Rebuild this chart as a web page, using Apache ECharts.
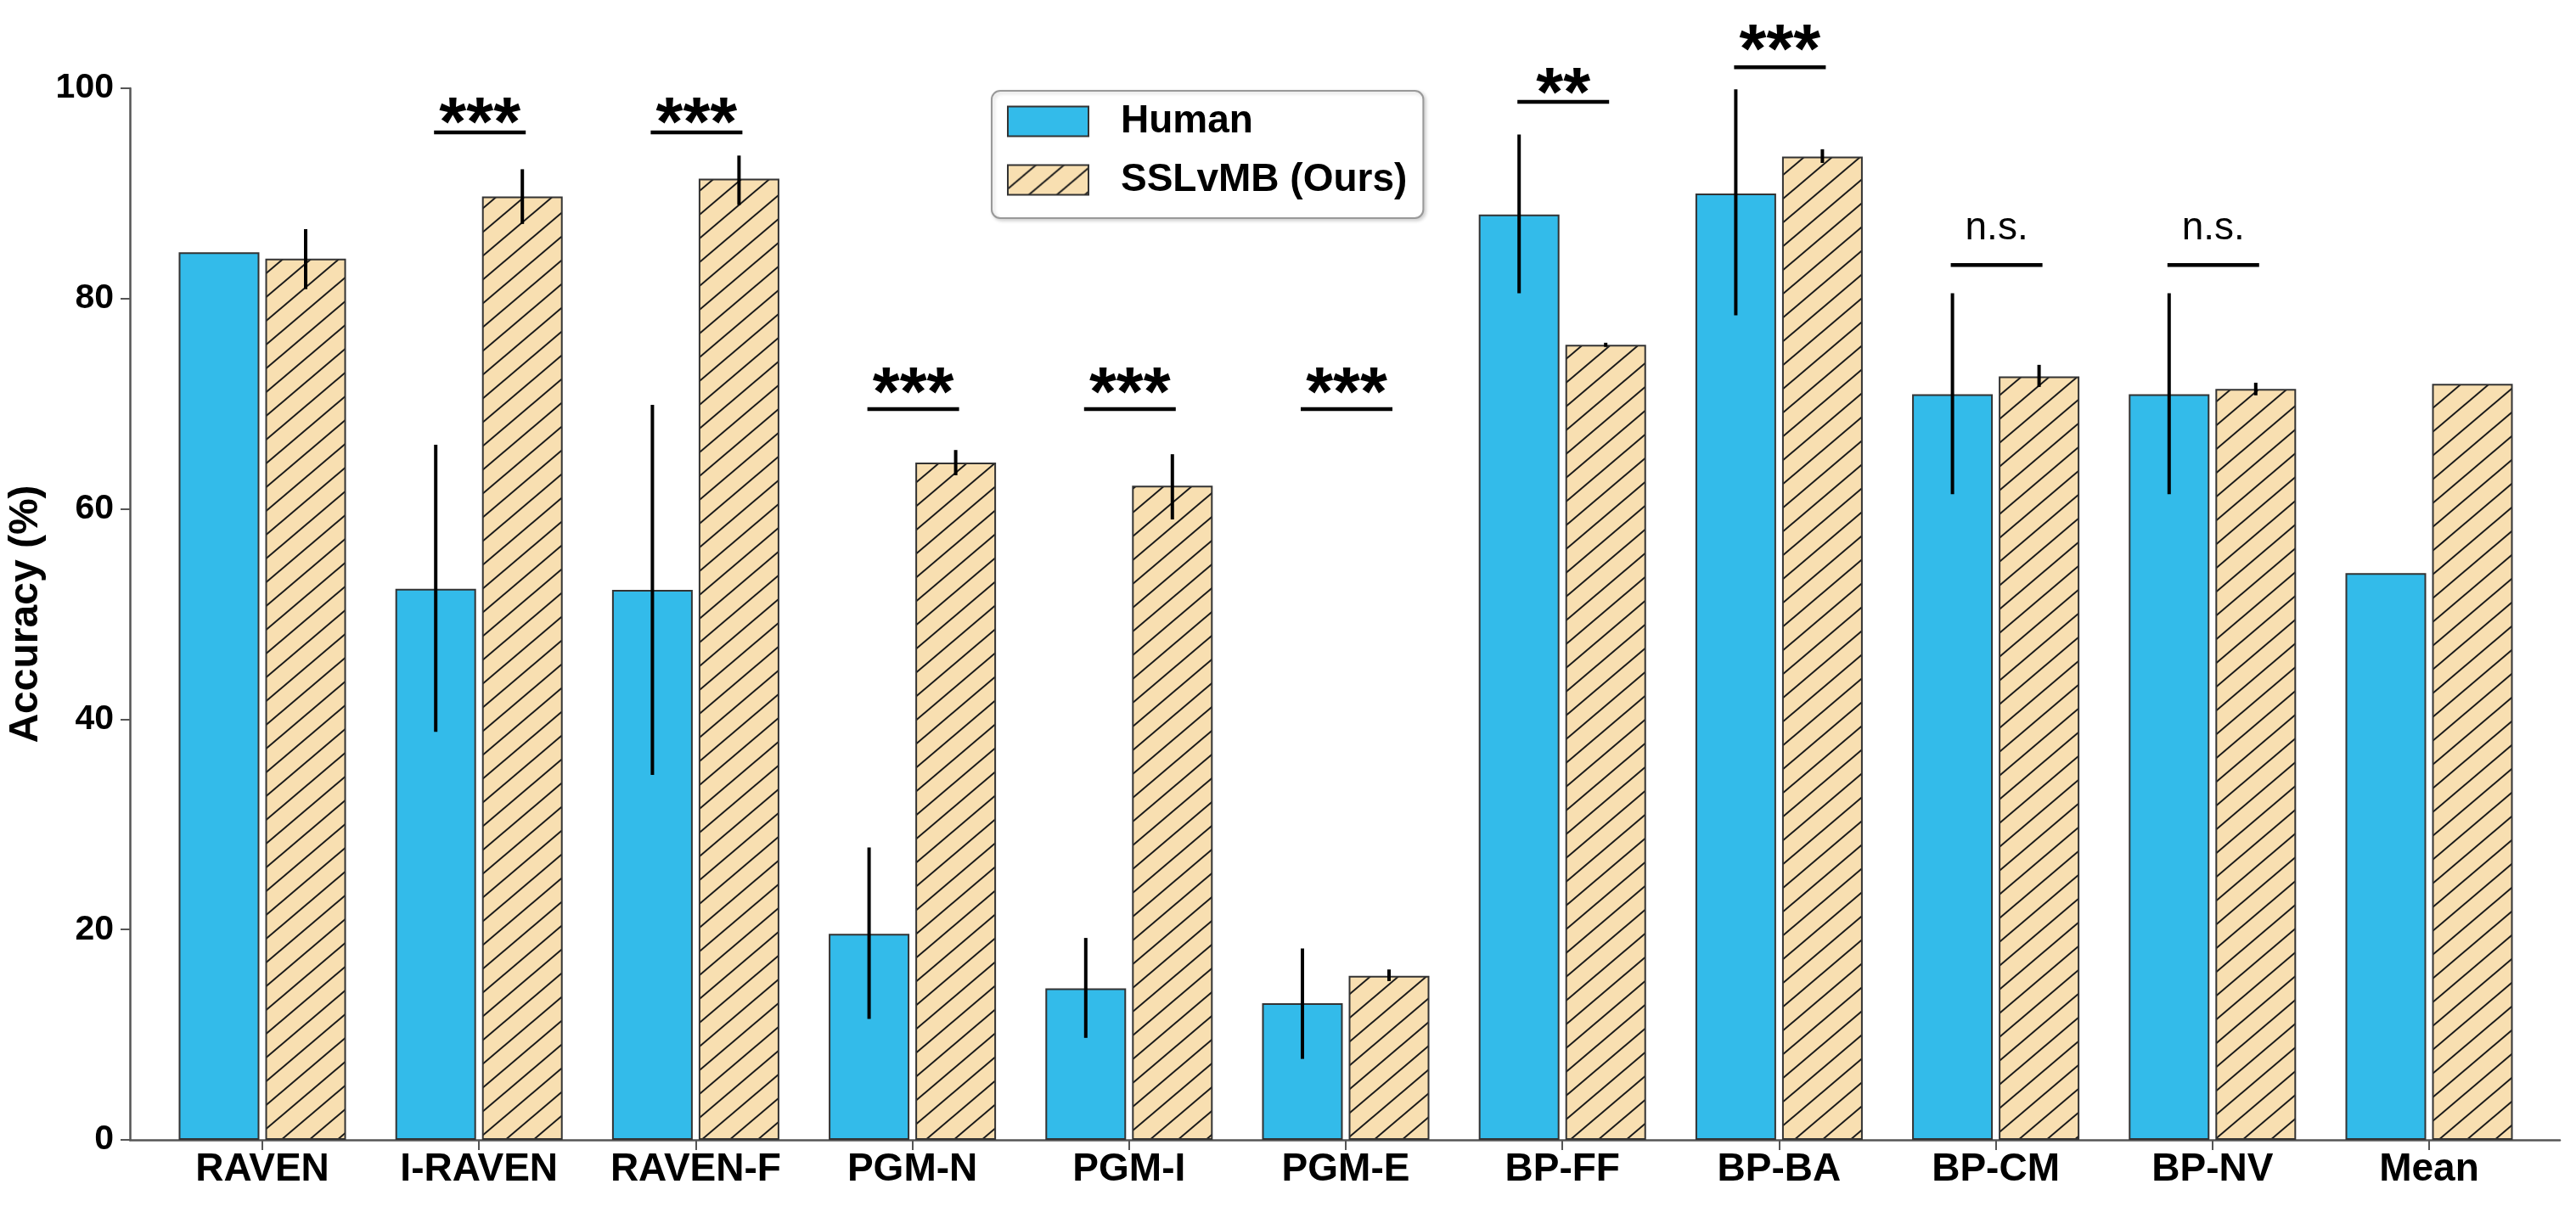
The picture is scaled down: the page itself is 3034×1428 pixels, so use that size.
<!DOCTYPE html>
<html>
<head>
<meta charset="utf-8">
<style>
  html, body { margin: 0; padding: 0; background: #fff; }
  #chart { width: 3034px; height: 1428px; }
</style>
<script src="https://cdn.jsdelivr.net/npm/echarts@6/dist/echarts.min.js"></script>
</head>
<body>
<div id="chart"></div>
<script>
// data
var categories = ['RAVEN', 'I-RAVEN', 'RAVEN-F', 'PGM-N', 'PGM-I', 'PGM-E', 'BP-FF', 'BP-BA', 'BP-CM', 'BP-NV', 'Mean'];

var humanAcc     = [84.4, 52.4, 52.3, 19.6, 14.4, 13.0, 88.0, 90.0, 70.9, 70.9, 53.9];
var humanErrLow  = [null, 38.8, 34.7, 11.5,  9.7,  7.7, 80.5, 78.4, 61.4, 61.4, null];
var humanErrHigh = [null, 66.1, 69.9, 27.8, 19.2, 18.2, 95.6, 99.9, 80.5, 80.5, null];

var oursAcc      = [83.8, 89.7, 91.4, 64.4, 62.2, 15.6, 75.6, 93.5, 72.6, 71.4, 71.9];
var oursErrLow   = [80.9, 87.1, 88.9, 63.2, 59.0, 15.1, 75.4, 92.9, 71.6, 70.8, null];
var oursErrHigh  = [86.6, 92.3, 93.6, 65.6, 65.2, 16.2, 75.8, 94.2, 73.7, 72.0, null];

// significance marks: label, bar height and text height (in % units)
var sigLabels = ['', '***', '***', '***', '***', '***', '**', '***', 'n.s.', 'n.s.', ''];
var sigLineY  = [null, 95.8, 95.8, 69.5, 69.5, 69.5, 98.7, 102.0, 83.2, 83.2, null];
var sigTextY  = [null, 97.9, 97.9, 72.2, 72.2, 72.2, 100.7, 104.8, 86.3, 86.3, null];

var yMin = 0, yMax = 100, yStep = 20;

var FONT = '"Liberation Sans", Arial, Helvetica, sans-serif';
var BLUE = '#33BBEA';
var BAR_W = 95;
var HALF = 51;   // offset of each bar centre from the category centre

function makeHatch() {
  var w = 33, h = 28;
  var c = document.createElement('canvas');
  c.width = w; c.height = h;
  var ctx = c.getContext('2d');
  ctx.fillStyle = '#F8DFB1';
  ctx.fillRect(0, 0, w, h);
  ctx.strokeStyle = '#1a1a1a';
  ctx.lineWidth = 2;
  [-h, 0, h].forEach(function (off) {
    ctx.beginPath();
    ctx.moveTo(-w, 2 * h + off);
    ctx.lineTo(2 * w, -h + off);
    ctx.stroke();
  });
  return c;
}

function errorBars(low, high, shift) {
  var data = [];
  for (var i = 0; i < categories.length; i++) {
    if (low[i] != null) data.push([i, low[i], high[i]]);
  }
  return {
    type: 'custom',
    xAxisIndex: 0,
    yAxisIndex: 0,
    z: 5,
    silent: true,
    encode: { x: 0, y: [1, 2] },
    data: data,
    renderItem: function (params, api) {
      var a = api.coord([api.value(0), api.value(1)]);
      var b = api.coord([api.value(0), api.value(2)]);
      return {
        type: 'line',
        shape: { x1: a[0] + shift, y1: a[1], x2: b[0] + shift, y2: b[1] },
        style: { stroke: '#000', lineWidth: 4 }
      };
    }
  };
}

var sigData = [];
for (var i = 0; i < categories.length; i++) {
  if (sigLineY[i] != null) sigData.push([i, sigLineY[i], sigTextY[i]]);
}

var chart = echarts.init(document.getElementById('chart'));
var hatch = makeHatch();

chart.setOption({
  animation: false,
  backgroundColor: '#fff',
  grid: [
    { left: 181.4, right: 45.4, top: 104, bottom: 85, outerBoundsMode: 'none' },
    { left: 153, right: 19, top: 104, bottom: 85, outerBoundsMode: 'none' }
  ],
  legend: {
    data: ['Human', 'SSLvMB (Ours)'],
    orient: 'vertical',
    left: 1168,
    top: 107,
    icon: 'rect',
    itemWidth: 95,
    itemHeight: 35,
    itemGap: 23,
    padding: [13, 19, 22, 18],
    borderColor: '#999',
    borderWidth: 2,
    borderRadius: 10,
    backgroundColor: '#fff',
    shadowColor: 'rgba(0,0,0,0.18)',
    shadowBlur: 4,
    shadowOffsetX: 2,
    shadowOffsetY: 2,
    textStyle: {
      fontFamily: FONT, fontSize: 46, fontWeight: 'bold', color: '#000',
      lineHeight: 46, padding: [0, 0, 0, 33]
    }
  },
  xAxis: [
    {
      type: 'category',
      gridIndex: 0,
      data: categories,
      axisLine: { show: false },
      axisTick: { show: true, alignWithLabel: true, length: 12, lineStyle: { color: '#555', width: 2 } },
      axisLabel: { interval: 0, fontFamily: FONT, fontSize: 46, fontWeight: 'bold', color: '#000', margin: 12 },
      splitLine: { show: false }
    },
    {
      type: 'value',
      gridIndex: 1,
      min: 0,
      max: 1,
      axisLine: { show: true, lineStyle: { color: '#555', width: 2.5 } },
      axisTick: { show: false },
      axisLabel: { show: false },
      splitLine: { show: false }
    }
  ],
  yAxis: [
    { type: 'value', gridIndex: 0, min: yMin, max: yMax, show: false },
    {
      type: 'value',
      gridIndex: 1,
      min: yMin,
      max: yMax,
      interval: yStep,
      name: 'Accuracy (%)',
      nameLocation: 'middle',
      nameGap: 81,
      nameTextStyle: { fontFamily: FONT, fontSize: 48, fontWeight: 'bold', color: '#000' },
      axisLine: { show: true, lineStyle: { color: '#555', width: 2.5 } },
      axisTick: { show: true, length: 11, lineStyle: { color: '#555', width: 2 } },
      axisLabel: { fontFamily: FONT, fontSize: 41, fontWeight: 'bold', color: '#000', margin: 19 },
      splitLine: { show: false }
    }
  ],
  series: [
    {
      name: 'Human',
      type: 'bar',
      xAxisIndex: 0,
      yAxisIndex: 0,
      barWidth: BAR_W,
      barGap: '7.4%',
      itemStyle: { color: BLUE, borderColor: '#333', borderWidth: 2 },
      data: humanAcc
    },
    {
      name: 'SSLvMB (Ours)',
      type: 'bar',
      xAxisIndex: 0,
      yAxisIndex: 0,
      barWidth: BAR_W,
      barGap: '7.4%',
      itemStyle: { color: { image: hatch, repeat: 'repeat' }, borderColor: '#333', borderWidth: 2 },
      data: oursAcc
    },
    errorBars(humanErrLow, humanErrHigh, -HALF),
    errorBars(oursErrLow, oursErrHigh, HALF),
    {
      type: 'custom',
      xAxisIndex: 0,
      yAxisIndex: 0,
      z: 6,
      silent: true,
      clip: false,
      encode: { x: 0, y: [1, 2] },
      data: sigData,
      renderItem: function (params, api) {
        var idx = api.value(0);
        var pl = api.coord([idx, api.value(1)]);
        var pt = api.coord([idx, api.value(2)]);
        var label = sigLabels[idx];
        var stars = label.indexOf('*') >= 0;
        return {
          type: 'group',
          children: [
            {
              type: 'line',
              shape: { x1: pl[0] - 53, y1: pl[1], x2: pl[0] + 55, y2: pl[1] },
              style: { stroke: '#000', lineWidth: 4.5 }
            },
            {
              type: 'text',
              x: pl[0] + 1,
              y: pt[1] + (stars ? 18 : -4),
              style: {
                text: label,
                fill: '#000',
                fontFamily: FONT,
                fontSize: stars ? 82 : 46,
                fontWeight: stars ? 'bold' : 'normal',
                align: 'center',
                verticalAlign: 'middle'
              }
            }
          ]
        };
      }
    }
  ]
});
</script>
</body>
</html>
